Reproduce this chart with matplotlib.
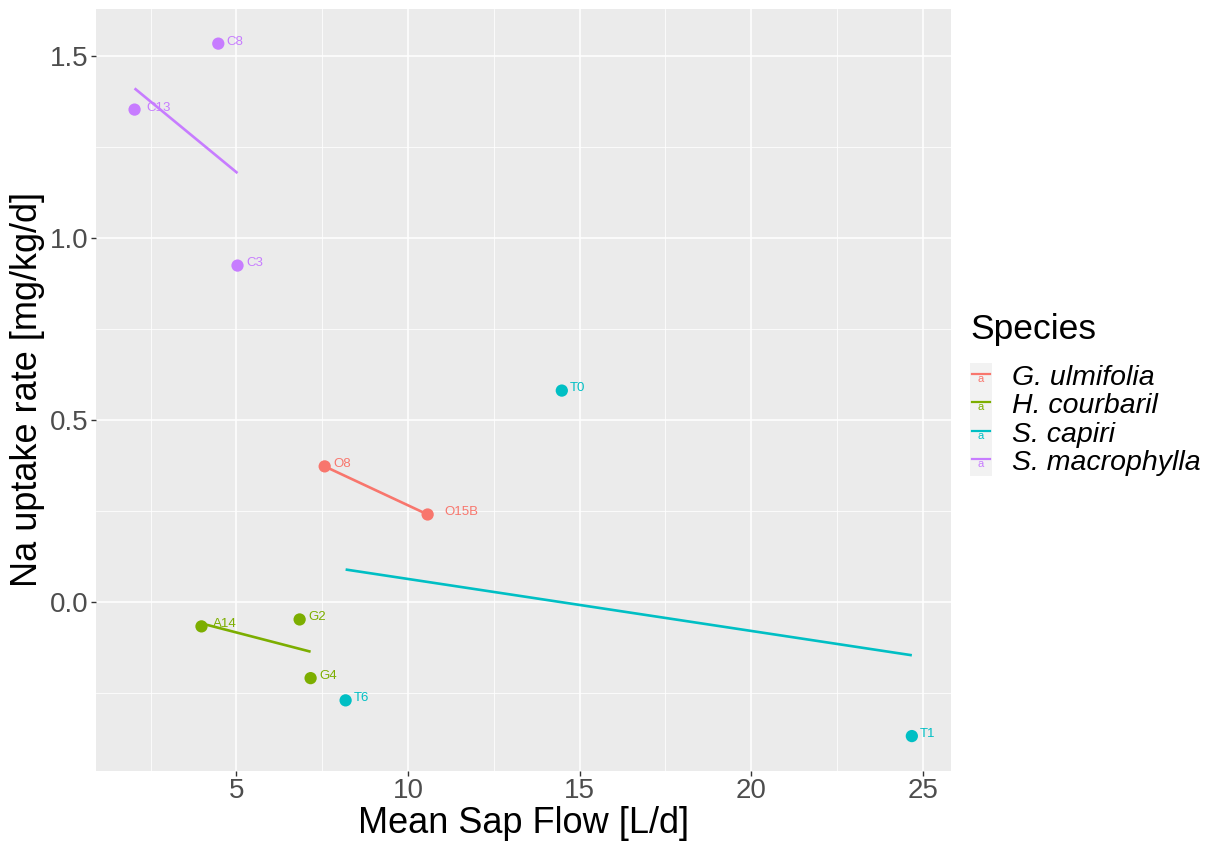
import numpy as np
import matplotlib
matplotlib.use("Agg")
import matplotlib.pyplot as plt
from matplotlib.patches import Rectangle
from matplotlib.lines import Line2D
from matplotlib.transforms import offset_copy

plt.rcParams['font.family'] = ['Liberation Sans', 'DejaVu Sans']

# Tree-level measurements
tree_ids = ["O8", "O15B", "A14", "G2", "G4", "T0", "T6", "T1", "C8", "C13", "C3"]
species = ["G. ulmifolia", "G. ulmifolia",
           "H. courbaril", "H. courbaril", "H. courbaril",
           "S. capiri", "S. capiri", "S. capiri",
           "S. macrophylla", "S. macrophylla", "S. macrophylla"]
sap_flow = [7.57, 10.57, 3.98, 6.84, 7.16, 14.48, 8.18, 24.68, 4.47, 2.03, 5.03]
na_uptake = [0.373, 0.241, -0.066, -0.047, -0.208, 0.581, -0.269, -0.367, 1.533, 1.352, 0.924]

species_levels = ["G. ulmifolia", "H. courbaril", "S. capiri", "S. macrophylla"]
species_colors = ["#F8766D", "#7CAE00", "#00BFC4", "#C77CFF"]

x_ticks = [5, 10, 15, 20, 25]
y_ticks = [0.0, 0.5, 1.0, 1.5]
y_tick_labels = ["0.0", "0.5", "1.0", "1.5"]

W, H = 1215, 848
fig = plt.figure(figsize=(W / 100, H / 100), dpi=100)
ax = fig.add_axes([95.7 / W, (H - 770.7) / H, 855 / W, 761.7 / H])

panel_bg = "#EBEBEB"
ax.set_facecolor(panel_bg)
for s in ax.spines.values():
    s.set_visible(False)

sf = np.array(sap_flow)
nu = np.array(na_uptake)
sp = np.array(species)

# axis limits with 5% expansion
xr = sf.max() - sf.min()
yr = nu.max() - nu.min()
ax.set_xlim(sf.min() - 0.05 * xr, sf.max() + 0.05 * xr)
ax.set_ylim(nu.min() - 0.05 * yr, nu.max() + 0.05 * yr)

# grid
ax.set_xticks(x_ticks)
ax.set_yticks(y_ticks)
ax.set_yticklabels(y_tick_labels)
ax.set_xticks([2.5, 7.5, 12.5, 17.5, 22.5], minor=True)
ax.set_yticks([-0.25, 0.25, 0.75, 1.25], minor=True)
ax.grid(which="major", color="white", linewidth=1.1)
ax.grid(which="minor", color="white", linewidth=0.55)
ax.set_axisbelow(True)
ax.tick_params(which="major", length=3.5, width=1.0, color="#333333",
               labelsize=20, labelcolor="#4D4D4D", pad=2)
ax.tick_params(which="minor", length=0)

# per-species linear fits
for name, col in zip(species_levels, species_colors):
    m = sp == name
    xs, ys = sf[m], nu[m]
    slope, icpt = np.polyfit(xs, ys, 1)
    xx = np.array([xs.min(), xs.max()])
    ax.plot(xx, icpt + slope * xx, color=col, linewidth=1.9, zorder=3,
            solid_capstyle="butt")

# points
for name, col in zip(species_levels, species_colors):
    m = sp == name
    ax.scatter(sf[m], nu[m], s=78, color=col, edgecolors="none", zorder=4)

# point labels, left-aligned with a gap of half the label width
fig.canvas.draw()
renderer = fig.canvas.get_renderer()
for tid, x, y, name in zip(tree_ids, sap_flow, na_uptake, species):
    col = species_colors[species_levels.index(name)]
    t = ax.text(x, y, tid, color=col, fontsize=9.5, ha="left", va="center",
                zorder=5)
    w_px = t.get_window_extent(renderer).width
    t.set_transform(offset_copy(ax.transData, fig=fig,
                                x=0.5 * w_px * 72 / fig.dpi,
                                y=1.5, units="points"))

ax.set_xlabel("Mean Sap Flow [L/d]", fontsize=26)
ax.set_ylabel("Na uptake rate [mg/kg/d]", fontsize=26)
ax.xaxis.set_label_coords(0.5, -(806 - 770.7) / 761.7)
ax.yaxis.set_label_coords(-(95.7 - 45) / 855, 0.5)

# legend drawn in figure pixel coordinates
def fx(px):
    return px / W

def fy(py):
    return 1 - py / H

fig.text(fx(970), fy(330), "Species", fontsize=25.5, ha="left", va="center")
key_top, key_h = 363, 28.3
fig.patches.append(Rectangle((fx(970), fy(key_top + 4 * key_h)),
                             fx(992) - fx(970), (4 * key_h) / H,
                             transform=fig.transFigure,
                             facecolor="#F2F2F2", edgecolor="none"))
for i, (name, col) in enumerate(zip(species_levels, species_colors)):
    cy = key_top + key_h * (i + 0.5)
    fig.lines.append(Line2D([fx(972), fx(990)], [fy(cy - 3), fy(cy - 3)],
                            transform=fig.transFigure, color=col,
                            linewidth=1.6))
    fig.text(fx(981), fy(cy + 2), "a", color=col, fontsize=8,
             ha="center", va="center")
    fig.text(fx(1012), fy(cy + 1), name, fontsize=20.5, style="italic",
             ha="left", va="center")

fig.savefig("out.png", dpi=100, facecolor="white")
